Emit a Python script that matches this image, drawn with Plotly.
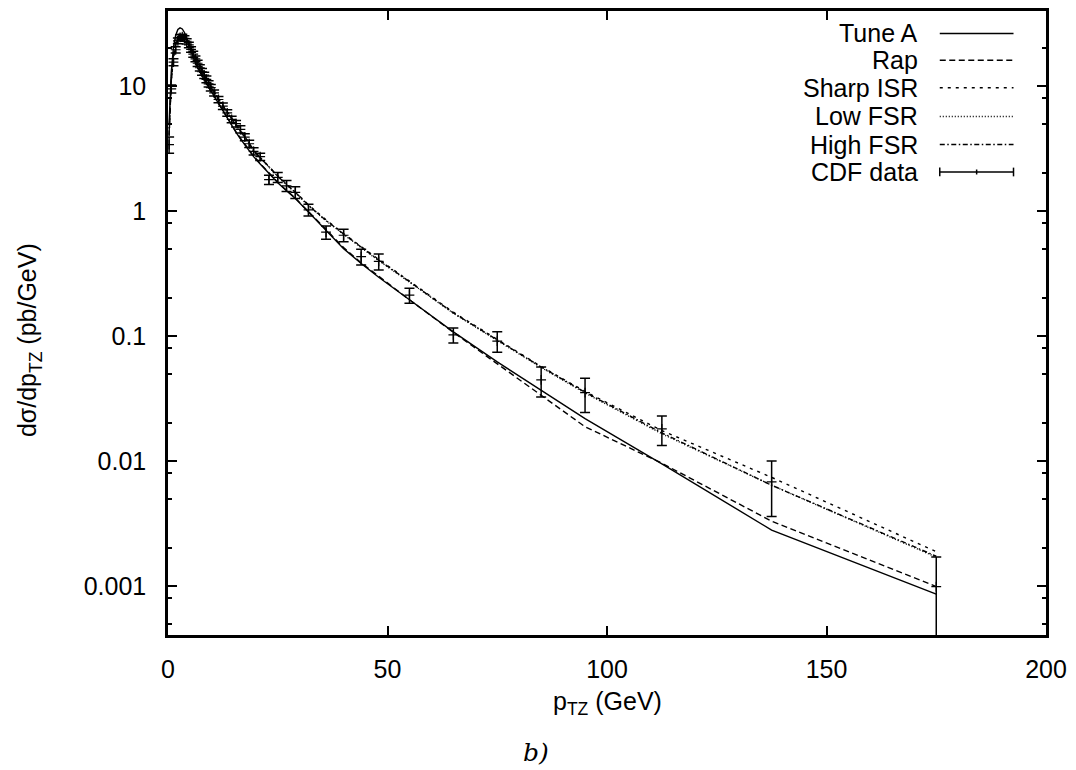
import plotly.graph_objects as go

# ---------------- data ----------------
pt = [0.25, 0.75, 1.25, 1.75, 2.25, 2.75, 3.25, 3.75, 4.25, 4.75,
      5.25, 5.75, 6.25, 6.75, 7.25, 7.75, 8.25, 8.75, 9.25, 9.75,
      10.5, 11.5, 12.5, 13.5, 14.5, 15.5, 16.5, 17.5, 18.5, 19.5,
      21, 23, 25, 27, 29, 32, 36, 40, 44, 48,
      55, 65, 75, 85, 95, 112.5, 137.5, 175]

tune_a = [5.0, 13.0, 20.5, 25.5, 28.3, 29.2, 28.6, 26.8, 24.2, 21.5,
          19.0, 17.0, 15.3, 14.0, 12.9, 12.0, 11.2, 10.5, 9.8, 9.2,
          8.3, 7.2, 6.3, 5.5, 4.8, 4.25, 3.78, 3.38, 3.02, 2.72,
          2.38, 1.98, 1.68, 1.45, 1.26, 0.98, 0.70, 0.50, 0.38, 0.295,
          0.195, 0.108, 0.062, 0.0365, 0.0218, 0.0095, 0.0028, 0.00086]

rap = [4.2, 11.5, 18.0, 22.3, 24.8, 25.8, 25.8, 25.0, 23.5, 21.6,
       19.5, 17.5, 15.8, 14.4, 13.2, 12.2, 11.3, 10.5, 9.8, 9.2,
       8.3, 7.25, 6.35, 5.55, 4.85, 4.3, 3.82, 3.4, 3.05, 2.75,
       2.4, 2.0, 1.7, 1.46, 1.27, 0.99, 0.71, 0.51, 0.385, 0.30,
       0.195, 0.107, 0.060, 0.034, 0.0188, 0.0096, 0.0033, 0.00099]

sharp_isr = [4.0, 11.0, 17.0, 21.0, 23.5, 24.8, 25.2, 24.8, 23.6, 22.0,
             20.2, 18.5, 17.0, 15.6, 14.4, 13.3, 12.3, 11.4, 10.6, 9.9,
             9.0, 7.9, 7.0, 6.2, 5.5, 4.9, 4.4, 3.95, 3.5, 3.05,
             2.68, 2.26, 1.92, 1.64, 1.42, 1.12, 0.85, 0.66, 0.52, 0.41,
             0.275, 0.155, 0.094, 0.057, 0.036, 0.0175, 0.0074, 0.00188]

low_fsr = [4.1, 11.2, 17.3, 21.4, 23.8, 25.0, 25.3, 24.7, 23.4, 21.8,
           20.0, 18.3, 16.8, 15.5, 14.3, 13.2, 12.2, 11.3, 10.5, 9.8,
           8.9, 7.8, 6.9, 6.1, 5.4, 4.85, 4.35, 3.9, 3.46, 3.02,
           2.65, 2.23, 1.89, 1.62, 1.40, 1.10, 0.835, 0.65, 0.51, 0.40,
           0.27, 0.152, 0.092, 0.056, 0.035, 0.0165, 0.0064, 0.0017]

high_fsr = [4.0, 11.1, 17.2, 21.2, 23.6, 24.9, 25.2, 24.8, 23.5, 21.9,
            20.1, 18.4, 16.9, 15.5, 14.3, 13.2, 12.2, 11.3, 10.5, 9.8,
            8.95, 7.85, 6.95, 6.15, 5.45, 4.85, 4.37, 3.92, 3.48, 3.04,
            2.66, 2.24, 1.90, 1.63, 1.41, 1.11, 0.84, 0.655, 0.515, 0.405,
            0.272, 0.153, 0.093, 0.0565, 0.0355, 0.0168, 0.0064, 0.00173]

cdf_y = [3.4, 9.5, 15.5, 19.5, 23.0, 24.5, 24.8, 24.0, 22.8, 21.3,
         19.6, 18.0, 16.5, 15.2, 14.0, 13.0, 12.2, 11.3, 10.4, 9.7,
         8.8, 7.8, 6.9, 6.1, 5.4, 5.0, 4.5, 3.9, 3.45, 3.0,
         2.72, 1.78, 1.86, 1.59, 1.41, 1.02, 0.677, 0.64, 0.432, 0.395,
         0.212, 0.102, 0.091, 0.0445, 0.0352, 0.0181, 0.0068, 0.00099]

cdf_err = [0.5, 0.7, 1.0, 1.1, 1.2, 1.2, 1.2, 1.2, 1.1, 1.1,
           1.0, 1.0, 0.9, 0.9, 0.8, 0.8, 0.7, 0.7, 0.6, 0.6,
           0.5, 0.45, 0.4, 0.37, 0.33, 0.3, 0.3, 0.25, 0.23, 0.2,
           0.18, 0.15, 0.17, 0.16, 0.15, 0.11, 0.083, 0.073, 0.062, 0.058,
           0.029, 0.014, 0.017, 0.012, 0.0108, 0.0048, 0.0032, 0.00072]

series_names = ["Tune A", "Rap", "Sharp ISR", "Low FSR", "High FSR"]
series_dash = ["solid", "6px,3.5px", "3px,5px", "1px,2px", "5px,2.5px,1.5px,2.5px"]
series_vals = [tune_a, rap, sharp_isr, low_fsr, high_fsr]

y_tickvals = [0.001, 0.01, 0.1, 1, 10]
y_ticktext = ["0.001", "0.01", "0.1", "1", "10"]
y_minor = [m * 10.0 ** e for e in range(-4, 2) for m in (2, 5, 8)]
x_tickvals = [0, 50, 100, 150, 200]

FONT = "Liberation Sans, Arial, Helvetica, sans-serif"

fig = go.Figure()

for name, dash, vals in zip(series_names, series_dash, series_vals):
    fig.add_trace(go.Scatter(
        x=pt, y=vals, mode="lines", name=name,
        line=dict(color="black", width=1.4, dash=dash),
        showlegend=False))

fig.add_trace(go.Scatter(
    x=pt, y=cdf_y, mode="markers", name="CDF data",
    marker=dict(symbol="cross-thin", size=7, color="black",
                line=dict(color="black", width=1.2)),
    error_y=dict(type="data", array=cdf_err, symmetric=True,
                 color="black", thickness=1.5, width=5),
    showlegend=False))

# ---------------- custom gnuplot-style key ----------------
key_rows = [0.964, 0.921, 0.877, 0.831, 0.786, 0.742]
key_text_x = 0.856
key_x0, key_x1 = 0.879, 0.963
shapes = []
annotations = []
for i, (name, dash) in enumerate(zip(series_names, series_dash)):
    yk = key_rows[i]
    annotations.append(dict(x=key_text_x, y=yk, xref="paper", yref="paper",
                            text=name, showarrow=False, xanchor="right",
                            yanchor="middle",
                            font=dict(family=FONT, size=25, color="black")))
    shapes.append(dict(type="line", xref="paper", yref="paper",
                       x0=key_x0, x1=key_x1, y0=yk, y1=yk,
                       line=dict(color="black", width=1.4, dash=dash)))
yk = key_rows[5]
annotations.append(dict(x=key_text_x, y=yk, xref="paper", yref="paper",
                        text="CDF data", showarrow=False, xanchor="right",
                        yanchor="middle",
                        font=dict(family=FONT, size=25, color="black")))
shapes.append(dict(type="line", xref="paper", yref="paper",
                   x0=key_x0, x1=key_x1, y0=yk, y1=yk,
                   line=dict(color="black", width=1.5)))
for xx, h in ((key_x0, 0.007), (key_x1, 0.007), ((key_x0 + key_x1) / 2, 0.004)):
    shapes.append(dict(type="line", xref="paper", yref="paper",
                       x0=xx, x1=xx, y0=yk - h, y1=yk + h,
                       line=dict(color="black", width=1.5)))

# axis titles and caption
annotations.append(dict(x=0.5, y=-0.109, xref="paper", yref="paper",
                        text="p<sub>TZ</sub> (GeV)", showarrow=False,
                        xanchor="center", yanchor="middle",
                        font=dict(family=FONT, size=25, color="black")))
annotations.append(dict(x=-0.158, y=0.473, xref="paper", yref="paper",
                        text="dσ/dp<sub>TZ</sub> (pb/GeV)", showarrow=False,
                        textangle=-90, xanchor="center", yanchor="middle",
                        font=dict(family=FONT, size=25, color="black")))
annotations.append(dict(x=0.419, y=-0.1875, xref="paper", yref="paper",
                        text="<i>b)</i>", showarrow=False,
                        xanchor="center", yanchor="middle",
                        font=dict(family="DejaVu Serif, Liberation Serif, serif",
                                  size=25, color="black")))

# the page adds an 8px body margin, so the figure is sized/offset to compensate
fig.update_layout(
    width=1068, height=762,
    margin=dict(l=160, r=30, t=3, b=135, autoexpand=False),
    paper_bgcolor="white", plot_bgcolor="white",
    font=dict(family=FONT, size=25, color="black"),
    shapes=shapes, annotations=annotations,
    showlegend=False,
)

fig.update_xaxes(
    range=[0, 200], tickvals=x_tickvals,
    showgrid=False, zeroline=False,
    showline=True, linecolor="black", linewidth=2.5, mirror="allticks",
    ticks="inside", ticklen=9, tickwidth=1.5, tickcolor="black",
    ticklabelstandoff=10,
    tickfont=dict(family=FONT, size=25, color="black"),
)
fig.update_yaxes(
    type="log", range=[-3.392, 1.6],
    tickvals=y_tickvals, ticktext=y_ticktext,
    showgrid=False, zeroline=False,
    showline=True, linecolor="black", linewidth=2.5, mirror="allticks",
    ticks="inside", ticklen=9, tickwidth=1.5, tickcolor="black",
    ticklabelstandoff=14,
    tickfont=dict(family=FONT, size=25, color="black"),
    minor=dict(tickmode="array", tickvals=y_minor, ticks="inside",
               ticklen=4.5, tickwidth=1.5, tickcolor="black", showgrid=False),
)

fig.write_html("out.html")
